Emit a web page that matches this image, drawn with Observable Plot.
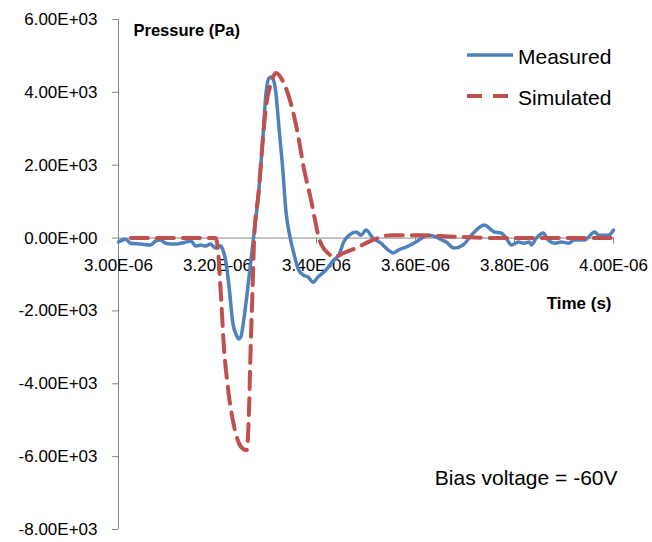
<!DOCTYPE html>
<html>
<head>
<meta charset="utf-8">
<script src="https://cdn.jsdelivr.net/npm/d3@7"></script>
<script src="https://cdn.jsdelivr.net/npm/@observablehq/plot@0.6"></script>
<style>
  body { margin: 0; background: #fff; }
  #wrap { position: relative; width: 652px; height: 542px; overflow: hidden; }
  #wrap svg.legend { position: absolute; left: 0; top: 0; pointer-events: none; }
</style>
</head>
<body>
<div id="wrap"></div>
<script>
// ---- data (time in microseconds, shown as E-06 seconds; pressure in Pa) ----
const measuredTime = [
  3.000, 3.014, 3.024, 3.045, 3.065, 3.075, 3.085, 3.095, 3.115, 3.126,
  3.136, 3.146, 3.156, 3.166, 3.176, 3.186, 3.196, 3.206, 3.211, 3.217,
  3.223, 3.231, 3.239, 3.243, 3.247, 3.253, 3.263, 3.273, 3.283, 3.291,
  3.298, 3.304, 3.310, 3.318, 3.324, 3.332, 3.338, 3.347, 3.354, 3.364,
  3.374, 3.383, 3.393, 3.403, 3.419, 3.435, 3.445, 3.455, 3.466, 3.480,
  3.490, 3.500, 3.514, 3.530, 3.545, 3.555, 3.565, 3.581, 3.601, 3.626,
  3.637, 3.646, 3.662, 3.678, 3.696, 3.713, 3.739, 3.759, 3.773, 3.783,
  3.794, 3.808, 3.818, 3.830, 3.834, 3.844, 3.858, 3.868, 3.881, 3.895,
  3.909, 3.921, 3.941, 3.962, 3.970, 3.990, 4.000
];
const measuredPressure = [
  -110, -30, -140, -165, -190, -80, -55, -140, -165, -140,
  -110, -80, -220, -190, -220, -165, -275, -220, -330, -660,
  -1290, -2330, -2690, -2770, -2720, -2250, -1150, 30, 1240, 2610,
  3980, 4390, 4420, 3980, 3050, 1870, 770, 0, -410, -880,
  -1020, -1070, -1210, -1070, -880, -600, -470, -110, 80, 165,
  80, 220, 0, -140, -330, -410, -330, -250, -110, 80,
  55, 0, -110, -275, -190, 80, 360, 165, 140, 0,
  -190, -110, -140, -110, -190, 0, 140, -55, -140, -110,
  -140, -55, -55, 165, 80, 80, 220
];
const simulatedTime = [
  3.025, 3.100, 3.196, 3.200, 3.206, 3.213, 3.221, 3.231, 3.241, 3.251,
  3.259, 3.263, 3.267, 3.271, 3.274, 3.283, 3.291, 3.298, 3.308, 3.318,
  3.334, 3.348, 3.362, 3.374, 3.389, 3.399, 3.405, 3.413, 3.423, 3.435,
  3.455, 3.484, 3.504, 3.524, 3.551, 3.577, 3.611, 3.652, 3.692, 3.773,
  3.854, 3.996
];
const simulatedPressure = [
  0, 0, 0, -200, -1350, -3000, -4100, -5000, -5550, -5780,
  -5820, -5000, -3000, -1350, 0, 1240, 2610, 3600, 4250, 4530,
  4250, 3710, 2880, 1950, 1040, 360, 0, -250, -410, -520,
  -410, -250, -110, 0, 80, 80, 80, 55, 30, 0,
  0, 0
];
const seriesNames = ["Measured", "Simulated"];
const seriesColors = ["#4F81BD", "#C0504D"];
const xTicks = [3.0, 3.2, 3.4, 3.6, 3.8, 4.0];
const yTicks = [-8000, -6000, -4000, -2000, 0, 2000, 4000, 6000];
const yLabel = "Pressure (Pa)";
const xLabel = "Time (s)";
const annotation = "Bias voltage = -60V";

// ---- build ----
const measured = measuredTime.map((t, i) => ({t, p: measuredPressure[i]}));
const simulated = simulatedTime.map((t, i) => ({t, p: simulatedPressure[i]}));
const fmtX = d => d.toFixed(2) + "E-06";
const fmtY = d => d === 0 ? "0.00E+00" : (d / 1000).toFixed(2) + "E+03";
const FONT = "Liberation Sans, Arial, sans-serif";
const axisGray = "#868686";

const chart = Plot.plot({
  width: 652,
  height: 542,
  marginLeft: 118,
  marginRight: 39,
  marginTop: 19,
  marginBottom: 13,
  style: {fontFamily: FONT, background: "white", color: "black"},
  x: {domain: [3, 4], axis: null},
  y: {domain: [-8000, 6000], axis: null},
  marks: [
    Plot.ruleX([3], {stroke: axisGray, strokeWidth: 1}),
    Plot.ruleY([0], {stroke: axisGray, strokeWidth: 1}),
    Plot.ruleX(xTicks, {x: d => d, y1: () => 0, y2: () => 0, insetBottom: -6, stroke: axisGray}),
    Plot.axisY(yTicks, {tickFormat: fmtY, tickSize: 6, tickPadding: 15, stroke: axisGray, fill: "black", fontSize: 17, label: null}),
    Plot.text(xTicks, {x: d => d, y: () => 0, text: fmtX, dy: 27, fontSize: 17, fill: "black", lineAnchor: "middle"}),
    Plot.line(measured, {x: "t", y: "p", stroke: seriesColors[0], strokeWidth: 3.5, curve: "monotone-x", strokeLinejoin: "round"}),
    Plot.line(simulated, {x: "t", y: "p", stroke: seriesColors[1], strokeWidth: 4, strokeDasharray: "17,9", curve: "monotone-x"}),
    Plot.text([yLabel], {frameAnchor: "top-left", textAnchor: "start", lineAnchor: "middle", dx: 15, dy: 11, fontWeight: "bold", fontSize: 16.5, fill: "black"}),
    Plot.text([xLabel], {frameAnchor: "right", textAnchor: "end", lineAnchor: "middle", dx: -2, dy: 29, fontWeight: "bold", fontSize: 17, fill: "black"}),
    Plot.text([annotation], {frameAnchor: "bottom-right", textAnchor: "end", lineAnchor: "middle", dx: 4, dy: -51, fontSize: 21, fill: "black"})
  ]
});

const wrap = document.getElementById("wrap");
wrap.appendChild(chart);

// legend overlay (inside plot area, top-right)
const lg = d3.select(wrap).append("svg")
  .attr("class", "legend")
  .attr("width", 652).attr("height", 542)
  .style("font-family", FONT);
const entries = lg.selectAll("g").data(seriesNames).join("g")
  .attr("transform", (d, i) => `translate(467, ${55 + i * 41})`);
entries.append("line")
  .attr("x1", 0).attr("x2", 46).attr("y1", 0).attr("y2", 0)
  .attr("stroke", (d, i) => seriesColors[i])
  .attr("stroke-width", (d, i) => i === 0 ? 3.5 : 4)
  .attr("stroke-dasharray", (d, i) => i === 0 ? null : "15,11");
entries.append("text")
  .attr("x", 51).attr("y", 2).attr("dy", "0.35em")
  .attr("font-size", 21).attr("fill", "black")
  .text(d => d);
</script>
</body>
</html>
